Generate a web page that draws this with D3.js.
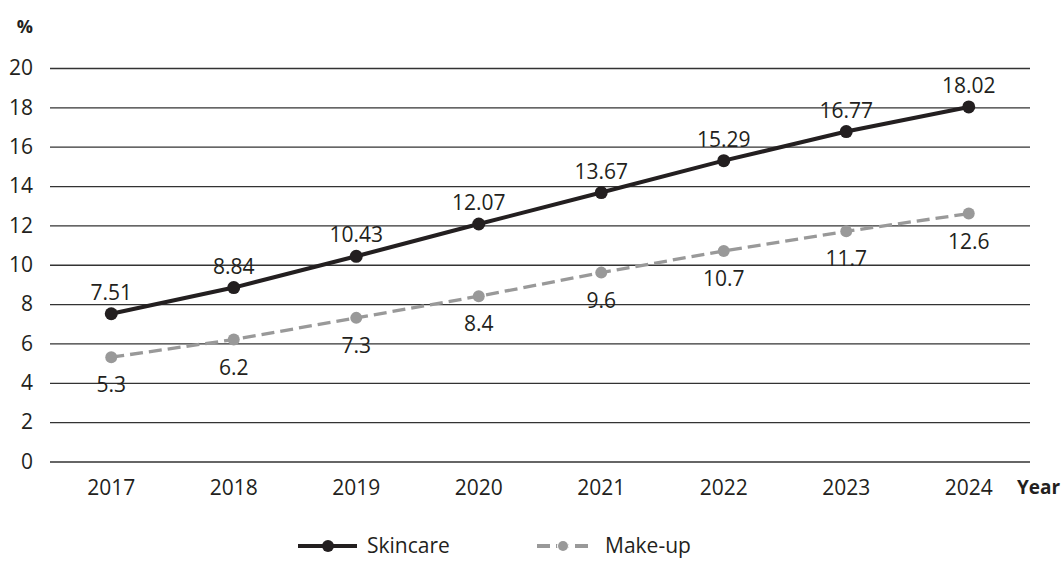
<!DOCTYPE html>
<html>
<head>
<meta charset="utf-8">
<script src="https://cdn.jsdelivr.net/npm/d3@7"></script>
<style>
  body { margin: 0; background: #fff; }
  text { font-family: "Open Sans", "Noto Sans", sans-serif; fill: #231f20; }
</style>
</head>
<body>
<svg id="chart" width="1064" height="561"></svg>
<script>
'use strict';

var years    = ["2017", "2018", "2019", "2020", "2021", "2022", "2023", "2024"];
var skincare = [7.51, 8.84, 10.43, 12.07, 13.67, 15.29, 16.77, 18.02];
var makeup   = [5.3, 6.2, 7.3, 8.4, 9.6, 10.7, 11.7, 12.6];
var yTicks   = [0, 2, 4, 6, 8, 10, 12, 14, 16, 18, 20];

var svg = d3.select("#chart"),
    fs  = 21;

var x = d3.scaleBand().domain(years).range([50, 1030]);
var y = d3.scaleLinear().domain([0, 20]).range([461.5, 68]);

function cx(d, i) { return x(years[i]) + x.bandwidth() / 2; }

// grid lines + y labels
var yAxis = d3.axisLeft(y).tickValues(yTicks).tickSize(-980).tickPadding(17);
var gy = svg.append("g").attr("transform", "translate(50,0)").call(yAxis);
gy.select(".domain").remove();
gy.selectAll(".tick line").attr("stroke", "#333").attr("stroke-width", 1.3);
gy.selectAll(".tick text")
    .attr("font-size", fs)
    .attr("font-family", "'Open Sans', sans-serif")
    .attr("fill", "#231f20");

// x labels
var xAxis = d3.axisBottom(x).tickSize(0).tickPadding(19);
var gx = svg.append("g").attr("transform", "translate(0,461.5)").call(xAxis);
gx.select(".domain").remove();
gx.selectAll(".tick text")
    .attr("font-size", fs)
    .attr("font-family", "'Open Sans', sans-serif")
    .attr("fill", "#231f20");

svg.append("text").attr("x", 33).attr("y", 33).attr("text-anchor", "end")
    .attr("font-size", 18).attr("font-weight", "bold").text("%");
svg.append("text").attr("x", 1017).attr("y", 494)
    .attr("font-size", 19).attr("font-weight", "bold").text("Year");

var line = d3.line().x(cx).y(function(d){ return y(d); });

// make-up (dashed grey)
svg.append("path").datum(makeup).attr("d", line)
    .attr("fill", "none").attr("stroke", "#999").attr("stroke-width", 3.3)
    .attr("stroke-dasharray", "13,6");
svg.append("g").selectAll("circle").data(makeup).enter().append("circle")
    .attr("cx", cx).attr("cy", function(d){ return y(d); })
    .attr("r", 6).attr("fill", "#999");
svg.append("g").selectAll("text").data(makeup).enter().append("text")
    .attr("x", cx).attr("y", function(d){ return y(d) + 35; })
    .attr("text-anchor", "middle").attr("font-size", fs)
    .text(function(d){ return d; });

// skincare (solid black)
svg.append("path").datum(skincare).attr("d", line)
    .attr("fill", "none").attr("stroke", "#231f20").attr("stroke-width", 4);
svg.append("g").selectAll("circle").data(skincare).enter().append("circle")
    .attr("cx", cx).attr("cy", function(d){ return y(d); })
    .attr("r", 6.5).attr("fill", "#231f20");
svg.append("g").selectAll("text").data(skincare).enter().append("text")
    .attr("x", cx).attr("y", function(d){ return y(d) - 14; })
    .attr("text-anchor", "middle").attr("font-size", fs)
    .text(function(d){ return d.toFixed(2); });

// legend
var lg = svg.append("g").attr("transform", "translate(0,546)");
lg.append("line").attr("x1", 298).attr("x2", 357).attr("stroke", "#231f20").attr("stroke-width", 4);
lg.append("circle").attr("cx", 328).attr("r", 6).attr("fill", "#231f20");
lg.append("text").attr("x", 367).attr("y", 7).attr("font-size", fs).text("Skincare");
lg.append("line").attr("x1", 537).attr("x2", 593).attr("stroke", "#999").attr("stroke-width", 4)
    .attr("stroke-dasharray", "13,6");
lg.append("circle").attr("cx", 563).attr("r", 6).attr("fill", "#fff");
lg.append("circle").attr("cx", 563).attr("r", 5).attr("fill", "#999");
lg.append("text").attr("x", 605).attr("y", 7).attr("font-size", fs).text("Make-up");
</script>
</body>
</html>
